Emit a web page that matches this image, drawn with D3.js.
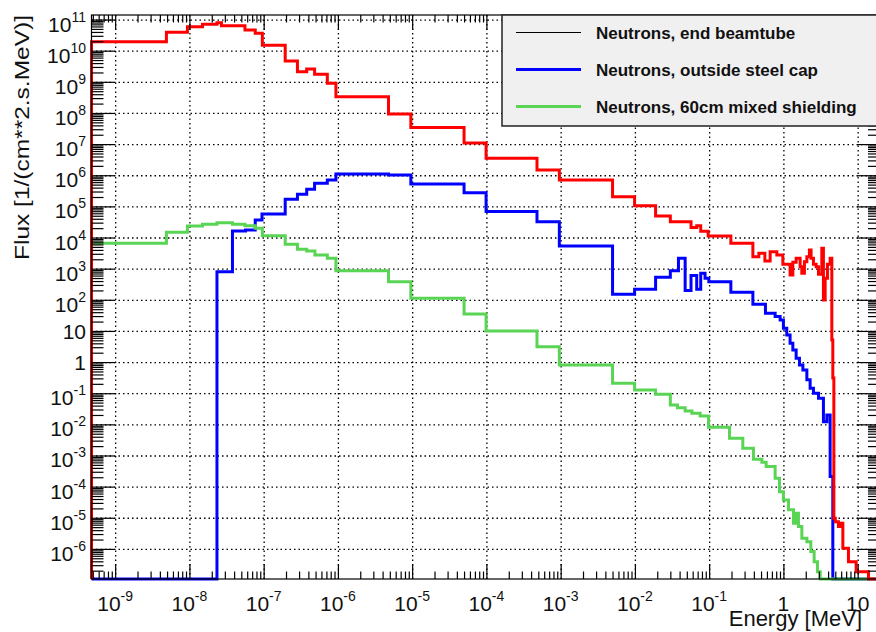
<!DOCTYPE html>
<html>
<head>
<meta charset="utf-8">
<script src="https://cdn.jsdelivr.net/npm/d3@7"></script>
<style>
  body { margin: 0; background: #fff; }
  svg { display: block; font-family: 'Liberation Sans', Arial, Helvetica, sans-serif; }
</style>
</head>
<body>
<svg id="chart"></svg>
<script>
// ------------------ data (bin edges in MeV, flux per bin) ---------------------------------------

let redEdges = [4.8e-10, 4.9e-9, 9.4e-9, 1.5e-8, 2.35e-8, 2.7e-8, 3.8e-8, 5.6e-8, 7.7e-8, 9.6e-8,
    1.95e-7, 2.85e-7, 3.8e-7, 4.85e-7, 7.2e-7, 9.4e-7, 4.8e-6, 9.6e-6, 5.0e-5, 9.9e-5,
    4.8e-4, 9.6e-4, 5.0e-3, 9.9e-3, 1.9e-2, 3.0e-2, 5.7e-2, 6.8e-2, 7.7e-2, 9.7e-2,
    0.196, 0.388, 0.467, 0.563, 0.663, 0.816, 0.983, 1.23, 1.34, 1.485,
    1.68, 1.77, 1.92, 2.07, 2.24, 2.36, 2.54, 2.76, 2.97, 3.29,
    3.46, 3.65, 3.92, 4.26, 4.49, 4.63, 4.78, 5.0, 5.51, 5.94,
    6.32, 7.52, 9.54, 14.0, 20];
let redFlux = [1.95e10, 3.9e10, 5.9e10, 7.05e10, 7.9e10, 6.35e10, 6.35e10, 4.6e10, 3.6e10,
    1.5e10, 4.7e9, 2.1e9, 2.6e9, 1.75e9, 9.0e8, 3.3e8, 9.3e7, 3.4e7, 1.09e7,
    3.5e6, 1.48e6, 7.0e5, 2.05e5, 1.05e5, 4.9e4, 3.2e4, 2.1e4, 2.4e4, 1.6e4,
    1.12e4, 6.5e3, 2.4e3, 3.1e3, 1.77e3, 3.5e3, 2.75e3, 1.38e3, 630, 1.6e3,
    2.15e3, 1.16e3, 710, 1.67e3, 2.4e3, 4.0e3, 2.15e3, 1.38e3, 1.16e3, 660,
    4.5e3, 99, 490, 1.38e3, 2.15e3, 5.1, 0.31, 9.6e-6, 7.5e-6, 5.2e-6,
    6.7e-6, 1.05e-6, 3.9e-7, 1.86e-7, 0];

let blueEdges = [4.8e-10, 2.35e-8, 3.8e-8, 5.7e-8, 7.7e-8, 9.5e-8, 1.95e-7, 2.85e-7, 3.8e-7, 4.85e-7,
    7.2e-7, 9.4e-7, 4.8e-6, 9.6e-6, 5.0e-5, 9.9e-5, 4.8e-4, 9.6e-4, 5.0e-3, 9.9e-3,
    1.9e-2, 3.0e-2, 3.86e-2, 4.75e-2, 5.7e-2, 6.8e-2, 7.7e-2, 8.8e-2, 9.9e-2, 0.196,
    0.388, 0.573, 0.774, 0.904, 1.0, 1.11, 1.23, 1.34, 1.485, 1.645,
    1.83, 2.07, 2.29, 2.54, 2.97, 3.46, 3.85, 4.26, 4.63, 20];
let blueFlux = [0, 800, 1.62e4, 1.75e4, 3.66e4, 5.7e4, 1.69e5, 2.45e5, 3.54e5,
    5.5e5, 7.05e5, 1.1e6, 1.02e6, 5.2e5, 2.75e5, 6.8e4, 3.2e4, 5.3e3, 150,
    220, 530, 860, 2.15e3, 200, 600, 220, 710, 490, 380,
    175, 72, 37, 29, 22.5, 12.2, 7.4, 4.0, 2.45, 1.32,
    0.81, 0.56, 0.27, 0.144, 0.1, 0.069, 0.0122, 0.02, 2.1e-4, 0];

let greenEdges = [4.8e-10, 4.9e-9, 9.4e-9, 1.5e-8, 2.35e-8, 3.8e-8, 5.6e-8, 7.7e-8, 9.6e-8, 1.95e-7,
    2.85e-7, 3.8e-7, 4.9e-7, 7.2e-7, 9.4e-7, 4.8e-6, 9.6e-6, 5.0e-5, 9.9e-5, 4.8e-4,
    9.6e-4, 5.0e-3, 9.9e-3, 1.9e-2, 3.0e-2, 3.74e-2, 4.75e-2, 5.85e-2, 7.56e-2, 9.8e-2,
    0.188, 0.284, 0.395, 0.513, 0.586, 0.774, 0.885, 1.0, 1.17, 1.366,
    1.485, 1.595, 1.772, 2.07, 2.34, 2.595, 2.875, 3.13, 20];
let greenFlux = [6.5e3, 1.47e4, 2.35e4, 2.66e4, 3.0e4, 2.66e4, 2.4e4, 1.98e4, 1.15e4,
    6.1e3, 4.2e3, 3.7e3, 2.75e3, 2.15e3, 860, 380, 112, 35, 10,
    3.1, 0.81, 0.21, 0.127, 0.092, 0.042, 0.034, 0.027, 0.0227, 0.0186,
    8.1e-3, 3.6e-3, 1.7e-3, 7.6e-4, 6.05e-4, 4.4e-4, 1.85e-4, 6.9e-5, 3.7e-5, 1.8e-5,
    6.7e-6, 1.4e-5, 5.2e-6, 2.2e-6, 1.7e-6, 8.2e-7, 3.9e-7, 1.86e-7, 0];

let xTickExp = [-9, -8, -7, -6, -5, -4, -3, -2, -1, 0, 1];
let yTickExp = [-6, -5, -4, -3, -2, -1, 0, 1, 2, 3, 4, 5, 6, 7, 8, 9, 10, 11];

let legendLabels = ['Neutrons, end beamtube', 'Neutrons, outside steel cap', 'Neutrons, 60cm mixed shielding'];
let legendColors = ['#000000', '#0000ff', '#59d454'];
let legendWidths = [1.2, 3, 3];

// ------------------ layout ---------------------

let svgWidth = 876;
let svgHeight = 632;
let frameLeft = 91.5, frameRight = 880, frameTop = 15, frameBottom = 579;

let svg = d3.select('#chart')
    .attr('width', svgWidth)
    .attr('height', svgHeight);

let x = d3.scaleLog()
    .domain([4.8e-10, 20])
    .range([frameLeft, frameRight]);

let y = d3.scaleLog()
    .domain([1.08e-7, 1.4e11])
    .range([frameBottom, frameTop]);

let yMin = y.domain()[0];

let xMajor = xTickExp.map(function(e) { return Math.pow(10, e); });
let yMajor = yTickExp.map(function(e) { return Math.pow(10, e); });

// minor ticks 2..9 in every decade that falls inside the domain
function minorTicks(scale, fromExp, toExp) {
    let out = [];
    for (let e = fromExp; e <= toExp; e++) {
        for (let m = 2; m <= 9; m++) {
            let v = m * Math.pow(10, e);
            if (v > scale.domain()[0] && v < scale.domain()[1]) out.push(v);
        }
    }
    return out;
}
let xMinor = minorTicks(x, -10, 1);
let yMinor = minorTicks(y, -7, 11);

// ------------------ grid ---------------------

function styleGrid(g) {
    g.select('.domain').remove();
    g.selectAll('line')
        .attr('stroke', '#000')
        .attr('stroke-width', 1.3)
        .attr('stroke-dasharray', '1.5,3');
}

svg.append('g')
    .attr('transform', 'translate(0,' + frameBottom + ')')
    .call(d3.axisBottom(x).tickValues(xMajor).tickSize(-(frameBottom - frameTop)).tickFormat(''))
    .call(styleGrid);

svg.append('g')
    .attr('transform', 'translate(' + frameLeft + ',0)')
    .call(d3.axisLeft(y).tickValues(yMajor).tickSize(-(frameRight - frameLeft)).tickFormat(''))
    .call(styleGrid);

// ------------------ histograms ---------------------

function stepPoints(edges, flux) {
    let pts = [[edges[0], yMin]];
    flux.forEach(function(f, i) {
        pts.push([edges[i], Math.max(f, yMin)]);
    });
    pts.push([edges[edges.length - 1], yMin]);
    return pts;
}

let stepLine = d3.line()
    .x(function(d) { return x(d[0]); })
    .y(function(d) { return y(d[1]); })
    .curve(d3.curveStepAfter);

let series = [
    { edges: blueEdges, flux: blueFlux, color: '#0000ff' },
    { edges: greenEdges, flux: greenFlux, color: '#59d454' },
    { edges: redEdges, flux: redFlux, color: '#ff0000' }
];

svg.selectAll('path.hist')
    .data(series)
    .enter()
    .append('path')
    .attr('class', 'hist')
    .attr('d', function(d) { return stepLine(stepPoints(d.edges, d.flux)); })
    .attr('fill', 'none')
    .attr('stroke', function(d) { return d.color; })
    .attr('stroke-width', 3)
    .attr('stroke-linejoin', 'miter');

// ------------------ frame and ticks ---------------------

function styleTicks(g) {
    g.select('.domain').remove();
    g.selectAll('line').attr('stroke', '#000').attr('stroke-width', 1.2);
}

svg.append('g').attr('transform', 'translate(0,' + frameBottom + ')')
    .call(d3.axisBottom(x).tickValues(xMajor).tickSize(-15).tickFormat('')).call(styleTicks);
svg.append('g').attr('transform', 'translate(0,' + frameBottom + ')')
    .call(d3.axisBottom(x).tickValues(xMinor).tickSize(-7.5).tickFormat('')).call(styleTicks);
svg.append('g').attr('transform', 'translate(0,' + frameTop + ')')
    .call(d3.axisTop(x).tickValues(xMajor).tickSize(-15).tickFormat('')).call(styleTicks);
svg.append('g').attr('transform', 'translate(0,' + frameTop + ')')
    .call(d3.axisTop(x).tickValues(xMinor).tickSize(-7.5).tickFormat('')).call(styleTicks);

svg.append('g').attr('transform', 'translate(' + frameLeft + ',0)')
    .call(d3.axisLeft(y).tickValues(yMajor).tickSize(-23).tickFormat('')).call(styleTicks);
svg.append('g').attr('transform', 'translate(' + frameLeft + ',0)')
    .call(d3.axisLeft(y).tickValues(yMinor).tickSize(-12).tickFormat('')).call(styleTicks);
svg.append('g').attr('transform', 'translate(' + frameRight + ',0)')
    .call(d3.axisRight(y).tickValues(yMajor).tickSize(-23).tickFormat('')).call(styleTicks);
svg.append('g').attr('transform', 'translate(' + frameRight + ',0)')
    .call(d3.axisRight(y).tickValues(yMinor).tickSize(-12).tickFormat('')).call(styleTicks);

svg.append('rect')
    .attr('x', frameLeft)
    .attr('y', frameTop)
    .attr('width', frameRight - frameLeft)
    .attr('height', frameBottom - frameTop)
    .attr('fill', 'none')
    .attr('stroke', '#000')
    .attr('stroke-width', 1.2);

// ------------------ tick labels ---------------------

function powerLabel(sel, e) {
    if (e === 0) { sel.text('1'); return; }
    if (e === 1) { sel.text('10'); return; }
    sel.append('tspan').text('10');
    sel.append('tspan')
        .attr('dy', -10)
        .style('font-size', '14px')
        .text(e);
}

svg.selectAll('text.xlab')
    .data(xTickExp)
    .enter()
    .append('text')
    .attr('class', 'xlab')
    .attr('x', function(d) { return x(Math.pow(10, d)); })
    .attr('y', 611)
    .attr('text-anchor', 'middle')
    .attr('fill', '#111')
    .style('font-size', '21px')
    .each(function(d) { powerLabel(d3.select(this), d); });

svg.selectAll('text.ylab')
    .data(yTickExp)
    .enter()
    .append('text')
    .attr('class', 'ylab')
    .attr('x', 86)
    .attr('y', function(d) {
        let shift = (d === 0 || d === 1) ? 8 : 12;
        return y(Math.pow(10, d)) + shift;
    })
    .attr('text-anchor', 'end')
    .attr('fill', '#111')
    .style('font-size', '21px')
    .each(function(d) { powerLabel(d3.select(this), d); });

// ------------------ axis titles ---------------------

svg.append('text')
    .attr('x', 862)
    .attr('y', 626)
    .attr('text-anchor', 'end')
    .attr('fill', '#111')
    .style('font-size', '22px')
    .text('Energy [MeV]');

svg.append('text')
    .attr('transform', 'translate(29,260) rotate(-90)')
    .attr('text-anchor', 'start')
    .attr('textLength', 245)
    .attr('lengthAdjust', 'spacingAndGlyphs')
    .attr('fill', '#111')
    .style('font-size', '21px')
    .text('Flux [1/(cm**2.s.MeV)]');

// ------------------ legend ---------------------

let legend = svg.append('g');

legend.append('rect')
    .attr('x', 502)
    .attr('y', frameTop)
    .attr('width', 390)
    .attr('height', 111)
    .attr('fill', '#f0f0f0')
    .attr('stroke', '#222')
    .attr('stroke-width', 1.5);

let rowY = d3.scalePoint()
    .domain(legendLabels)
    .range([32.5, 106.5]);

let rows = legend.selectAll('g.row')
    .data(legendLabels)
    .enter()
    .append('g')
    .attr('class', 'row')
    .attr('transform', function(d) { return 'translate(0,' + rowY(d) + ')'; });

rows.append('line')
    .attr('x1', 516)
    .attr('x2', 581)
    .attr('stroke', function(d, i) { return legendColors[i]; })
    .attr('stroke-width', function(d, i) { return legendWidths[i]; });

rows.append('text')
    .attr('x', 596)
    .attr('y', 6)
    .attr('fill', '#111')
    .style('font-size', '17px')
    .style('font-weight', 'bold')
    .text(function(d) { return d; });
</script>
</body>
</html>
